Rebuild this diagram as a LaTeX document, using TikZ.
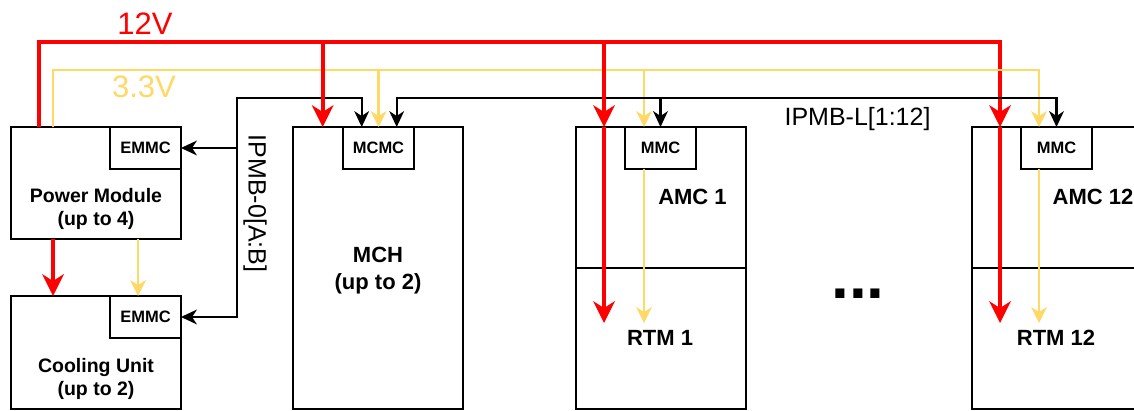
\documentclass[tikz,border=0pt]{standalone}
\usepackage{fontspec}
\setmainfont{Liberation Sans}
\usetikzlibrary{arrows.meta}
\definecolor{v12c}{HTML}{FF0000}
\definecolor{v33c}{HTML}{FFD966}
\tikzset{
  box/.style={draw=black, line width=1.6pt, inner sep=0pt, outer sep=0pt, anchor=north west},
  ctrl/.style={box, font=\bfseries\fontsize{16.5}{20}\selectfont},
  big/.style={inner sep=0pt, align=center, font=\bfseries\fontsize{22}{27}\selectfont},
  mid/.style={inner sep=0pt, align=center, font=\bfseries\fontsize{19.5}{23}\selectfont},
  rail12/.style={draw=v12c, line width=4pt},
  rail33/.style={draw=v33c, line width=2.4pt},
  bus/.style={draw=black, line width=2.2pt},
  tipR/.tip={Stealth[length=22pt,width=22pt,inset=7pt,line width=0pt]},
  tipY/.tip={Stealth[length=16pt,width=16pt,inset=5pt,line width=0pt]},
  tipB/.tip={Stealth[length=16pt,width=15pt,inset=5pt,line width=0pt]},
}
\begin{document}
\begin{tikzpicture}[x=1pt,y=-1pt]
\fill[white] (0,0) rectangle (1134,411);
\useasboundingbox (0,0) rectangle (1134,411);

% boxes
\node[box, minimum width=170pt, minimum height=112pt] (pm) at (11,127) {};
\node[ctrl, minimum width=71pt, minimum height=42pt] (pmE) at (110,127) {EMMC};
\node[box, minimum width=170pt, minimum height=113pt] (cu) at (11,296) {};
\node[ctrl, minimum width=71pt, minimum height=42pt] (cuE) at (110,296) {EMMC};
\node[box, minimum width=170pt, minimum height=282pt] (mch) at (293,127) {};
\node[ctrl, minimum width=71pt, minimum height=42pt] (mcmc) at (343,127) {MCMC};
\node[box, minimum width=170pt, minimum height=141pt] (amc1) at (576,127) {};
\node[box, minimum width=170pt, minimum height=141pt] (rtm1) at (576,268) {};
\node[ctrl, minimum width=71pt, minimum height=42pt] (mmc1) at (625,127) {MMC};
\node[box, minimum width=170pt, minimum height=141pt] (amc12) at (972,127) {};
\node[box, minimum width=170pt, minimum height=141pt] (rtm12) at (972,268) {};
\node[ctrl, minimum width=71pt, minimum height=42pt] (mmc12) at (1021,127) {MMC};

% box texts
\node[mid] (pmT) at (96,208.7) {Power Module\\(up to 4)};
\node[mid] (cuT) at (96,378.7) {Cooling Unit\\(up to 2)};
\node[big] (mchT) at (378,270.6) {MCH\\(up to 2)};
\node[big] (amc1T) at (692.5,196.7) {AMC 1};
\node[big] (rtm1T) at (660,338.3) {RTM 1};
\node[big] (amc12T) at (1093,196.7) {AMC 12};
\node[big] (rtm12T) at (1056,338.3) {RTM 12};
\node[inner sep=0pt, anchor=base, font=\bfseries\fontsize{64}{70}\selectfont] (dots) at (858,299) {...};

% labels
\node[inner sep=0pt, anchor=base, text=v12c, font=\fontsize{31}{36}\selectfont] (l12) at (145,35) {12V};
\node[inner sep=0pt, anchor=base, text=v33c, font=\fontsize{31}{36}\selectfont] (l33) at (144,98) {3.3V};
\node[inner sep=0pt, anchor=base, font=\fontsize{25}{30}\selectfont] (lL) at (857.5,126) {IPMB-L[1:12]};
\node[inner sep=0pt, anchor=base, rotate=-90, font=\fontsize{25}{30}\selectfont] (l0) at (248.5,203.5) {IPMB-0[A:B]};

% 12V rail (main run and last drop)
\draw[rail12, -tipR] ([xshift=28pt]pm.north west) -- ++(0,-85) coordinate (c12) -| ([xshift=28pt]amc12.north west);

% 3.3V rail
\draw[rail33, -tipY] ([xshift=42pt]pm.north west) -- ++(0,-57) coordinate (c33) -| ([xshift=18pt]mmc12.north west);
\draw[rail33, -tipY] (mcmc.north |- c33) -- (mcmc.north);
\draw[rail33, -tipY] ([xshift=19pt]mmc1.north west |- c33) -- ([xshift=19pt]mmc1.north west);
\draw[rail33, -tipY] ([xshift=19pt]mmc1.south west) -- ++(0,154);
\draw[rail33, -tipY] ([xshift=18pt]mmc12.south west) -- ++(0,154);
\draw[rail33, -tipY] ([xshift=127pt]pm.south west) -- ([xshift=127pt]cu.north west);

% IPMB-0
\coordinate (b0) at (237,98);
\draw[bus, tipB-tipB] (cuE.east) -| (b0) -| ([xshift=18.7pt]mcmc.north west);
\draw[bus, -tipB] (b0 |- pmE.east) -- (pmE.east);

% IPMB-L
\coordinate (bL) at (700,98);
\draw[bus, tipB-tipB] ([xshift=53.7pt]mcmc.north west) -- ([xshift=53.7pt]mcmc.north west |- bL) -| (mmc12.north);
\draw[bus, -tipB] (mmc1.north |- bL) -- (mmc1.north);

% 12V drops
\draw[rail12, -tipR] ([xshift=29.7pt]mch.north west |- c12) -- ([xshift=29.7pt]mch.north west);
\draw[rail12, -tipR] ([xshift=28pt]amc1.north west |- c12) -- ([xshift=28pt]amc1.north west);
\draw[rail12, -tipR] ([xshift=28pt]amc1.north west) -- ([xshift=28pt,yshift=-55pt]rtm1.north west);
\draw[rail12, -tipR] ([xshift=28pt]amc12.north west) -- ([xshift=28pt,yshift=-55pt]rtm12.north west);
\draw[rail12, -tipR] ([xshift=42pt]pm.south west) -- ([xshift=42pt]cu.north west);
\end{tikzpicture}
\end{document}
